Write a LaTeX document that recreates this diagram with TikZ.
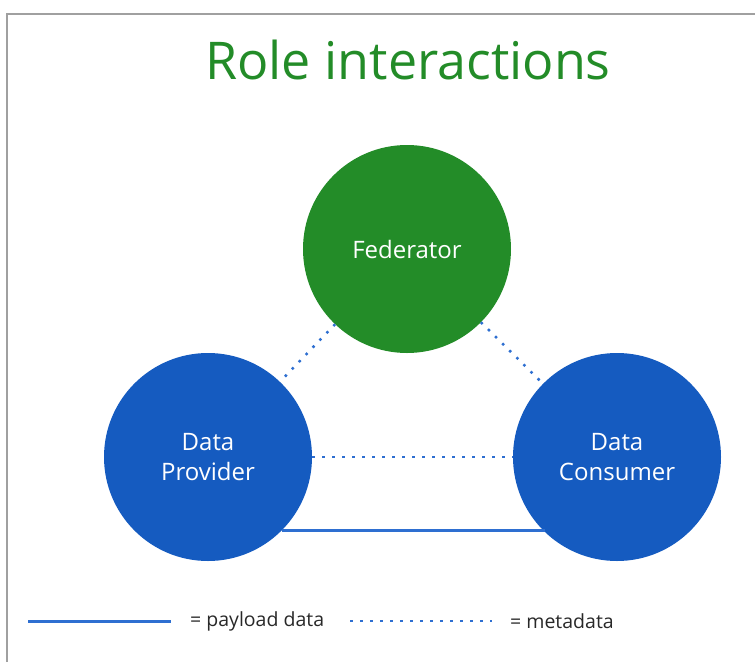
\documentclass[tikz,border=0pt]{standalone}
\usepackage{fontspec}
\setmainfont{Open Sans}
\definecolor{fedgreen}{RGB}{35,140,40}
\definecolor{roleblue}{RGB}{21,91,192}
\definecolor{lineblue}{RGB}{46,111,209}
\definecolor{framegray}{RGB}{160,160,160}
\definecolor{legendtext}{RGB}{40,40,40}
\tikzset{
  role/.style={circle, minimum size=208pt, inner sep=0pt, outer sep=0pt, text=white, align=center, font=\fontsize{24}{30}\selectfont},
  payload/.style={draw=lineblue, line width=3pt},
  meta/.style={draw=lineblue, line width=2.5pt, dash pattern=on 2.5pt off 7.5pt},
  legendlabel/.style={anchor=west, text=legendtext, font=\fontsize{19.5}{22}\selectfont, inner sep=0pt}
}
\begin{document}
\begin{tikzpicture}[x=1pt,y=-1pt]
\useasboundingbox (0,0) rectangle (755,662);
\draw[framegray, line width=1.5pt] (7,662) -- (7,14) -- (755,14);
\node[anchor=base, text=fedgreen, font=\fontsize{52}{60}\selectfont, inner sep=0pt] (title) at (408,79) {Role interactions};
\node[role, fill=fedgreen] (fed) at (407,249) {Federator};
\node[role, fill=roleblue] (prov) at (208,457) {Data\\Provider};
\node[role, fill=roleblue] (cons) at (617,457) {Data\\Consumer};
\draw[meta] (fed) -- (prov);
\draw[meta] (fed) -- (cons);
\draw[meta] (prov) -- (cons);
\draw[payload] (prov.-45.4) -- (prov.-45.4 -| cons.-134.6);
% legend
\coordinate (la) at (28,621);
\coordinate (lb) at (171,621);
\coordinate (ma) at (350,621);
\coordinate (mb) at (492,621);
\draw[payload] (la) -- (lb);
\node[legendlabel] (lt1) at (190,621) {= payload data};
\draw[meta] (ma) -- (mb);
\node[legendlabel] (lt2) at (510,621) {= metadata};
\end{tikzpicture}
\end{document}
